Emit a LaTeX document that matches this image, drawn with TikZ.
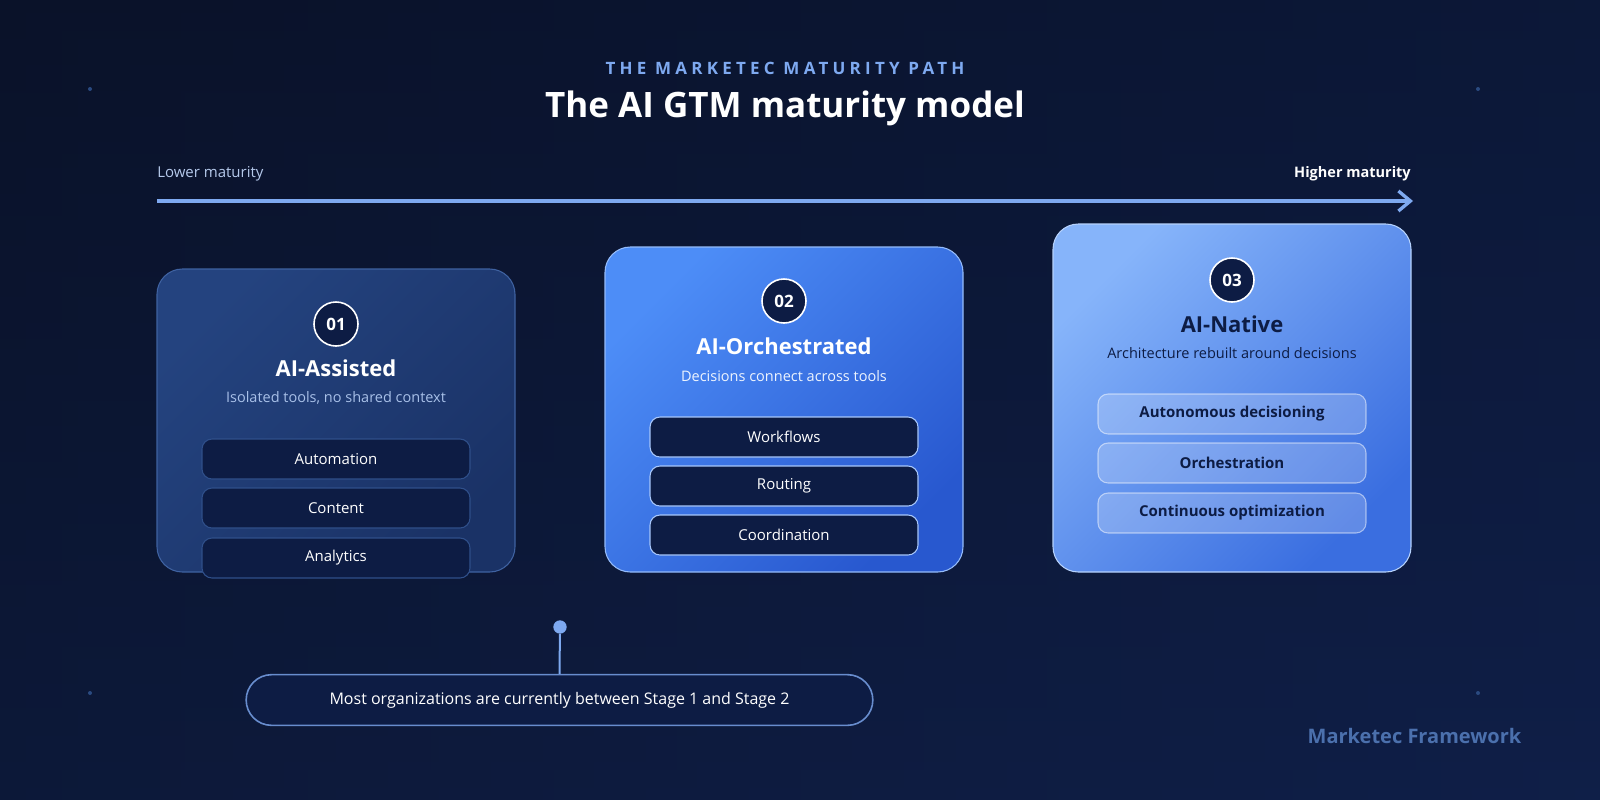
\documentclass[tikz,border=0pt]{standalone}
\usepackage{fontspec}
\setmainfont{Open Sans}
\newfontfamily\spaced[LetterSpace=25]{Open Sans}
\usetikzlibrary{arrows.meta}
\definecolor{bgA}{HTML}{0A1229}
\definecolor{bgB}{HTML}{0F1F48}
\definecolor{accent}{HTML}{7EA9F0}
\definecolor{navy}{HTML}{0D1C44}
\definecolor{pillB}{HTML}{2F4F8A}
\definecolor{sub}{HTML}{A8C0E8}
\definecolor{dotc}{HTML}{2A4A80}
\definecolor{cA1}{HTML}{24437F}\definecolor{cA2}{HTML}{1A3266}
\definecolor{cB1}{HTML}{4D8DF7}\definecolor{cB2}{HTML}{2858CF}
\definecolor{cC1}{HTML}{86B4FA}\definecolor{cC2}{HTML}{3A6EE0}
\begin{document}
\begin{tikzpicture}[x=0.75pt,y=-0.75pt,
  fs/.style={font=\fontsize{\fpeval{#1*0.75}pt}{\fpeval{#1*0.9}pt}\selectfont},
  fsb/.style={font=\fontsize{\fpeval{#1*0.75}pt}{\fpeval{#1*0.9}pt}\selectfont\bfseries},
  pill/.style={draw=pillB,fill=navy,rounded corners=7.5pt,line width=0.8pt},
  pilltxt/.style={fs=15,text=white},
  num/.style={circle,minimum size=33pt,inner sep=0pt,draw=white,line width=1.2pt,fill=navy,text=white,fsb=17},
  ctitle/.style={fsb=22},
  csub/.style={fs=14.5},
  dot/.style={circle,fill=dotc,inner sep=0pt,minimum size=3pt}]
\useasboundingbox (0,0) rectangle (1600,800);
\shade[left color=bgA,right color=bgB] (0,0) rectangle (1600,800);
\shade[top color=bgA,bottom color=bgB,opacity=0.5] (0,0) rectangle (1600,800);
\node[dot] (d1) at (90,89){};\node[dot] (d2) at (1478,89){};
\node[dot] (d3) at (90,693){};\node[dot] (d4) at (1478,693){};
\node[text=accent,font=\fontsize{12.75pt}{15pt}\spaced\bfseries] (st) at (785,68) {THE MARKETEC MATURITY PATH};
\node[fsb=35,text=white] (tt) at (785,108) {The AI GTM maturity model};
\node[fs=15,text=sub!85,anchor=west,inner sep=0pt] (lo) at (157,174) {Lower maturity};
\node[fsb=14.5,text=white,anchor=east,inner sep=0pt] (hi) at (1411,174) {Higher maturity};
\coordinate (a0) at (157,201);\coordinate (a1) at (1413,201);
\draw[accent,line width=3pt,-{Straight Barb[length=9pt,width=15pt,line width=2.5pt]}] (a0)--(a1);
% card 1
\shade[left color=cA1,right color=cA2,shading angle=45,rounded corners=19pt] (157,269) rectangle (515,572);
\draw[draw=cA1!70!accent,line width=0.8pt,rounded corners=19pt] (157,269) rectangle (515,572);
\node[num] (n1) at (336,324) {01};
\node[ctitle,text=white] (t1) at (336,368) {AI-Assisted};
\node[csub,text=sub] (s1) at (336,398) {Isolated tools, no shared context};
\foreach \y/\t [count=\i] in {459/Automation,508/Content,558/Analytics}{
 \draw[pill] (202,\y-20) rectangle (470,\y+20);
 \node[pilltxt] (p1\i) at (336,\y) {\t};}
% card 2
\shade[left color=cB1,right color=cB2,shading angle=45,rounded corners=19pt] (605,247) rectangle (963,572);
\draw[draw=cB1!60!white,line width=0.8pt,rounded corners=19pt] (605,247) rectangle (963,572);
\node[num] (n2) at (784,301) {02};
\node[ctitle,text=white] (t2) at (784,346) {AI-Orchestrated};
\node[csub,text=white!90!cB1] (s2) at (784,376) {Decisions connect across tools};
\foreach \y/\t [count=\i] in {437/Workflows,486/Routing,535/Coordination}{
 \draw[pill,draw=cB1!50!white] (650,\y-20) rectangle (918,\y+20);
 \node[pilltxt] (p2\i) at (784,\y) {\t};}
% card 3
\shade[left color=cC1,right color=cC2,shading angle=45,rounded corners=19pt] (1053,224) rectangle (1411,572);
\draw[draw=cC1!60!white,line width=0.8pt,rounded corners=19pt] (1053,224) rectangle (1411,572);
\node[num,draw=white] (n3) at (1232,280) {03};
\node[ctitle,text=navy] (t3) at (1232,324) {AI-Native};
\node[csub,text=navy] (s3) at (1232,353) {Architecture rebuilt around decisions};
\foreach \y/\t [count=\i] in {414/Autonomous decisioning,463/Orchestration,513/Continuous optimization}{
 \draw[rounded corners=7.5pt,fill=white,fill opacity=0.2,draw=white,draw opacity=0.5,line width=0.8pt] (1098,\y-20) rectangle (1366,\y+20);
 \node[fsb=15,text=navy] (p3\i) at (1232,\y) {\t};}
% callout
\node[circle,fill=accent,inner sep=0pt,minimum size=10pt] (pin) at (560,627) {};
\node[draw=accent!80!bgB,fill=navy,line width=1.2pt,rounded corners=19pt,minimum width=470pt,minimum height=38pt,fs=16,text=white] (call) at (559.5,700) {Most organizations are currently between Stage 1 and Stage 2};
\draw[accent,line width=1.5pt] (pin)--(call.north);
\node[fsb=20,text=dotc!60!accent,anchor=east] (ft) at (1526,736) {Marketec Framework};
\end{tikzpicture}
\end{document}
